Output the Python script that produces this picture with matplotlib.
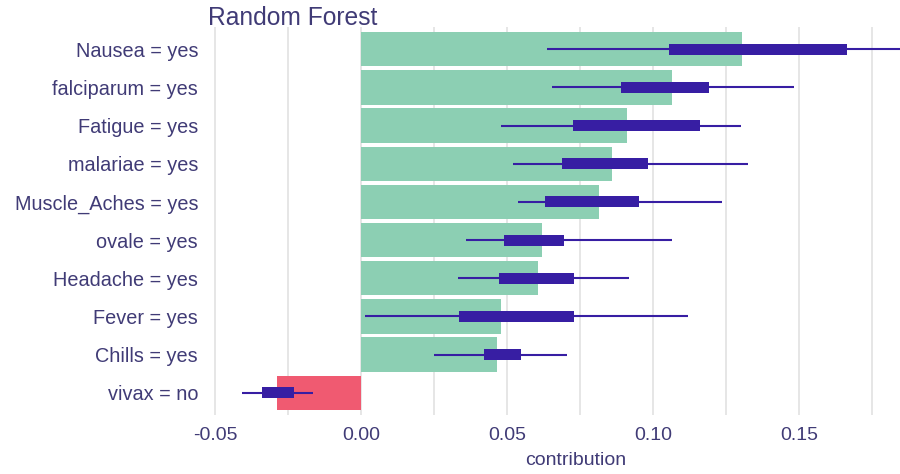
import numpy as np
import matplotlib
matplotlib.use('Agg')
import matplotlib.pyplot as plt
from matplotlib.ticker import MultipleLocator

plt.rcParams['font.family'] = ['Liberation Sans', 'DejaVu Sans']

# data (top to bottom)
labels = ['Nausea = yes', 'falciparum = yes', 'Fatigue = yes', 'malariae = yes',
          'Muscle_Aches = yes', 'ovale = yes', 'Headache = yes', 'Fever = yes',
          'Chills = yes', 'vivax = no']
contribution = [0.1306, 0.1066, 0.0912, 0.0861, 0.0816, 0.0619, 0.0605, 0.0479, 0.0465, -0.0287]
whisker_low = [0.0638, 0.0653, 0.0479, 0.0522, 0.0539, 0.0360, 0.0333, 0.0014, 0.0251, -0.0406]
box_low = [0.1055, 0.0890, 0.0727, 0.0690, 0.0630, 0.0490, 0.0473, 0.0337, 0.0421, -0.0338]
box_high = [0.1666, 0.1193, 0.1161, 0.0984, 0.0953, 0.0695, 0.0730, 0.0730, 0.0547, -0.0229]
whisker_high = [0.1900, 0.1483, 0.1300, 0.1326, 0.1237, 0.1066, 0.0919, 0.1119, 0.0704, -0.0163]

text_color = '#403b76'
pos_color = '#8ccfb3'
neg_color = '#f05a71'
box_color = '#371ea3'

fig = plt.figure(figsize=(9, 4.74), dpi=100)
ax = fig.add_axes([205 / 900, 1 - 415 / 474, 695 / 900, 388 / 474])

y = np.arange(len(labels))
colors = [pos_color if v >= 0 else neg_color for v in contribution]
ax.barh(y, contribution, height=0.9, color=colors, zorder=2)

# boxplots: thin whisker line + thick box
ax.hlines(y, whisker_low, whisker_high, color=box_color, lw=1.5, zorder=3)
box_w = np.array(box_high) - np.array(box_low)
ax.barh(y, box_w, left=box_low, height=0.29, color=box_color, zorder=4)

ax.set_xlim(-0.0534, 0.1846)
ax.set_ylim(9.58, -0.58)
ax.set_yticks(y)
ax.set_yticklabels(labels)

ax.xaxis.set_minor_locator(MultipleLocator(0.025))
ticks = np.arange(-0.05, 0.16, 0.05)
ax.set_xticks(ticks)
ax.set_xticklabels(['%.2f' % t for t in ticks])
ax.grid(axis='x', which='both', color='#e4e4e4', lw=1.3, zorder=0)
ax.set_axisbelow(True)

ax.tick_params(axis='both', which='both', length=0, colors=text_color)
ax.tick_params(axis='y', labelsize=14.3, pad=5)
ax.tick_params(axis='x', labelsize=14, pad=9)
for s in ax.spines.values():
    s.set_visible(False)

ax.set_xlabel('contribution', fontsize=14, color=text_color)
ax.xaxis.set_label_coords(0.534, -0.095)

fig.text(208 / 900, 1 - 25 / 474, 'Random Forest', fontsize=17.7, color=text_color,
         ha='left', va='baseline')

fig.savefig('out.png', dpi=100)
